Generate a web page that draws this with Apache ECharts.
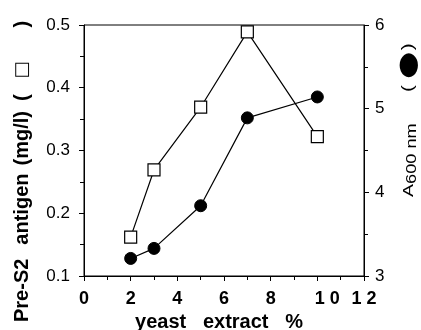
<!DOCTYPE html>
<html>
<head>
<meta charset="utf-8">
<script src="https://cdn.jsdelivr.net/npm/echarts@6/dist/echarts.min.js"></script>
<style>
html,body{margin:0;padding:0;background:#fff;}
#c{width:421px;height:330px;}
</style>
</head>
<body>
<div id="c"></div>
<script>
// Data
const yeastExtract = [2, 3, 5, 7, 10];
const preS2Antigen = [0.162, 0.269, 0.369, 0.489, 0.322];
const a600 = [3.21, 3.33, 3.84, 4.89, 5.14];
const xTicks = [0, 2, 4, 6, 8, 10, 12];
const xTickLabels = ['0', '2', '4', '6', '8', '1 0', '1 2'];
const leftTicks = [0.1, 0.2, 0.3, 0.4, 0.5];
const rightTicks = [3, 4, 5, 6];
const xTitle = 'yeast   extract   %';

const FONT = '"Liberation Sans", Arial, sans-serif';
const chart = echarts.init(document.getElementById('c'), null, {renderer: 'canvas'});

const option = {
  animation: false,
  backgroundColor: '#fff',
  grid: {left: 84, right: 57, top: 25, bottom: 54, show: true, borderColor: '#000', borderWidth: 1,
         containLabel: false, outerBoundsMode: 'none'},
  xAxis: {
    type: 'value', min: xTicks[0], max: xTicks[xTicks.length - 1], interval: 2,
    splitLine: {show: false},
    axisLine: {lineStyle: {color: '#000', width: 1}},
    axisTick: {show: true, length: 5, lineStyle: {color: '#000'}},
    minorTick: {show: true, splitNumber: 2, length: 4, lineStyle: {color: '#000'}},
    axisLabel: {
      margin: 14, color: '#000', fontFamily: FONT, fontWeight: 'bold', fontSize: 18,
      formatter: function (v) {
        const i = xTicks.indexOf(v);
        const t = i >= 0 ? xTickLabels[i] : String(v);
        return v === 10 ? '{s|' + t + '}' : t;
      },
      rich: {s: {fontFamily: FONT, fontWeight: 'bold', fontSize: 18, color: '#000', padding: [0, 0, 0, 20]}}
    },
    name: xTitle, nameLocation: 'middle', nameGap: 36,
    nameTextStyle: {color: '#000', fontFamily: FONT, fontWeight: 'bold', fontSize: 20, padding: [0, 10, 0, 0]}
  },
  yAxis: [
    {
      type: 'value', min: leftTicks[0], max: leftTicks[leftTicks.length - 1], interval: 0.1,
      position: 'left',
      splitLine: {show: false},
      axisLine: {show: true, lineStyle: {color: '#000', width: 1}},
      axisTick: {show: true, length: 5, lineStyle: {color: '#000'}},
      minorTick: {show: true, splitNumber: 2, length: 4, lineStyle: {color: '#000'}},
      axisLabel: {margin: 14, color: '#000', fontFamily: FONT, fontSize: 17,
        formatter: function (v) { return v.toFixed(1); }}
    },
    {
      type: 'value', min: rightTicks[0], max: rightTicks[rightTicks.length - 1], interval: 1,
      position: 'right',
      splitLine: {show: false},
      axisLine: {show: true, lineStyle: {color: '#000', width: 1}},
      axisTick: {show: true, length: 5, lineStyle: {color: '#000'}},
      minorTick: {show: true, splitNumber: 2, length: 4, lineStyle: {color: '#000'}},
      axisLabel: {margin: 11, color: '#000', fontFamily: FONT, fontSize: 17}
    }
  ],
  graphic: [
    {
      type: 'text', x: 22, y: 322, rotation: Math.PI / 2,
      style: {
        text: '{p|Pre-S2}{a|antigen}{m|(mg/l)}{o|(}{s|\u25A1}{c|)}',
        align: 'left', verticalAlign: 'middle', fill: '#000',
        rich: {
          p: {font: 'bold 20px ' + FONT, fill: '#000', padding: [0, 14, 0, 0]},
          a: {font: 'bold 20px ' + FONT, fill: '#000', padding: [0, 8, 0, 0]},
          m: {font: 'bold 20px ' + FONT, fill: '#000', padding: [0, 10, 0, 0]},
          o: {font: 'bold 20px ' + FONT, fill: '#000', padding: [0, 16, 0, 0]},
          s: {font: 'bold 18px "DejaVu Sans", sans-serif', fill: '#000', padding: [0, 34, 0, 0]},
          c: {font: 'bold 20px ' + FONT, fill: '#000'}
        }
      }
    },
    {
      type: 'text', x: 409, y: 197, rotation: Math.PI / 2, scaleX: 1.3, scaleY: 1,
      style: {
        text: '{a|A}{b|600 nm}{o|(}{d|\u25CF}{c|)}',
        align: 'left', verticalAlign: 'middle', fill: '#000',
        rich: {
          a: {font: '15px ' + FONT, fill: '#000', verticalAlign: 'middle'},
          b: {font: '14px ' + FONT, fill: '#000', padding: [7, 24, 0, 0], verticalAlign: 'middle'},
          o: {font: '16px ' + FONT, fill: '#000', padding: [0, 5, 0, 0], verticalAlign: 'middle'},
          d: {font: '24px "DejaVu Sans", sans-serif', fill: '#000', padding: [0, 1, 0, 0], verticalAlign: 'middle'},
          c: {font: '16px ' + FONT, fill: '#000', verticalAlign: 'middle'}
        }
      }
    }
  ],
  series: [
    {
      type: 'line', yAxisIndex: 1, clip: false,
      data: yeastExtract.map(function (x, i) { return [x, a600[i]]; }),
      symbol: 'circle', symbolSize: 12,
      lineStyle: {color: '#000', width: 1.2},
      itemStyle: {color: '#000', borderColor: '#000'}
    },
    {
      type: 'line', yAxisIndex: 0, clip: false,
      data: yeastExtract.map(function (x, i) { return [x, preS2Antigen[i]]; }),
      symbol: 'rect', symbolSize: 12,
      lineStyle: {color: '#000', width: 1.2},
      itemStyle: {color: '#fff', borderColor: '#000', borderWidth: 1.2}
    }
  ]
};
chart.setOption(option);
</script>
</body>
</html>
